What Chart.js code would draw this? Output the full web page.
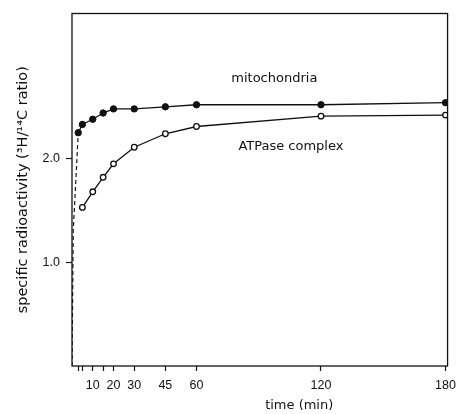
<!DOCTYPE html>
<html>
<head>
<meta charset="utf-8">
<script src="https://cdn.jsdelivr.net/npm/chart.js@4/dist/chart.umd.min.js"></script>
<style>
  html, body { margin: 0; padding: 0; background: #fff; }
  #wrap { width: 463px; height: 414px; }
</style>
</head>
<body>
<div id="wrap"><canvas id="chart" width="463" height="414"></canvas></div>
<script>
// time points (min)
const mitoTimes = [3, 5, 10, 15, 20, 30, 45, 60, 120, 180];
const mitoRatio = [2.25, 2.33, 2.38, 2.44, 2.48, 2.48, 2.50, 2.52, 2.52, 2.54];

const atpTimes = [5, 10, 15, 20, 30, 45, 60, 120, 180];
const atpRatio = [1.53, 1.68, 1.82, 1.95, 2.11, 2.24, 2.31, 2.41, 2.42];

// dashed rise from zero to first mitochondria point
const riseTimes = [0, 0.6, 3];
const riseRatio = [0, 1.3, 2.25];

const xTicks = [3, 5, 10, 15, 20, 30, 45, 60, 120, 180];
const xLabelled = [10, 20, 30, 45, 60, 120, 180];
const yTicks = [1.0, 2.0];

// curve labels, in data units
const curveLabels = [
    { text: "mitochondria", x: 97.5, y: 2.77 },
    { text: "ATPase complex", x: 105.5, y: 2.12 },
];
const xTitle = { text: "time (min)", x: 109.5 };

const ink = "#111";
const TICKFONT = "'Liberation Sans', Arial, sans-serif";
const FONT = "'DejaVu Sans', sans-serif";

const toPoints = (xs, ys) => xs.map((x, i) => ({ x: x, y: ys[i] }));

const frame = {
    id: "frame",
    afterDatasetsDraw(chart) {
        const { ctx, chartArea: a, scales } = chart;
        ctx.save();
        ctx.strokeStyle = ink;
        ctx.lineWidth = 1.3;
        ctx.strokeRect(a.left, a.top, a.right - a.left, a.bottom - a.top);
        ctx.fillStyle = ink;
        ctx.font = "13px " + FONT;
        ctx.textAlign = "center";
        ctx.textBaseline = "middle";
        curveLabels.forEach((l) => {
            ctx.fillText(l.text, scales.x.getPixelForValue(l.x), scales.y.getPixelForValue(l.y));
        });
        // x axis title sits right of centre in the original
        ctx.fillText(xTitle.text, scales.x.getPixelForValue(xTitle.x), chart.height - 8);
        ctx.restore();
    },
};

new Chart(document.getElementById("chart"), {
    type: "scatter",
    data: {
        datasets: [
            {
                label: "rise",
                data: toPoints(riseTimes, riseRatio),
                showLine: true,
                borderColor: ink,
                borderWidth: 1.2,
                borderDash: [4, 3],
                pointRadius: 0,
            },
            {
                label: "mitochondria",
                data: toPoints(mitoTimes, mitoRatio),
                showLine: true,
                borderColor: ink,
                borderWidth: 1.3,
                pointRadius: 3.2,
                pointBackgroundColor: ink,
                pointBorderColor: ink,
                pointBorderWidth: 1,
            },
            {
                label: "ATPase complex",
                data: toPoints(atpTimes, atpRatio),
                showLine: true,
                borderColor: ink,
                borderWidth: 1.3,
                pointRadius: 2.8,
                pointBackgroundColor: "#fff",
                pointBorderColor: ink,
                pointBorderWidth: 1.3,
            },
        ],
    },
    options: {
        responsive: false,
        animation: false,
        layout: { padding: { left: 0, top: 12, right: 14, bottom: 0 } },
        plugins: { legend: { display: false }, tooltip: { enabled: false } },
        scales: {
            x: {
                type: "linear",
                min: 0,
                max: 181,
                afterBuildTicks: (s) => { s.ticks = xTicks.map((v) => ({ value: v })); },
                afterFit: (s) => { s.height = 48; },
                ticks: {
                    color: ink,
                    font: { family: TICKFONT, size: 12.5 },
                    padding: 7,
                    maxRotation: 0,
                    autoSkip: false,
                    callback: (v) => (xLabelled.includes(v) ? String(v) : ""),
                },
                grid: { drawOnChartArea: false, tickLength: 5, color: ink, tickWidth: 1.2 },
                border: { display: false },
            },
            y: {
                min: 0,
                max: 3.4,
                afterBuildTicks: (s) => { s.ticks = yTicks.map((v) => ({ value: v })); },
                afterFit: (s) => { s.width = 72; },
                ticks: {
                    color: ink,
                    font: { family: TICKFONT, size: 12.5 },
                    padding: 6,
                    callback: (v) => v.toFixed(1),
                },
                grid: { drawOnChartArea: false, tickLength: 6, color: ink, tickWidth: 1.2 },
                border: { display: false },
                title: {
                    display: true,
                    text: "specific radioactivity (\u00B3H/\u00B9\u2074C ratio)",
                    color: ink,
                    font: { family: FONT, size: 14.5 },
                    padding: { top: 15, bottom: 0 },
                },
            },
        },
    },
    plugins: [frame],
});
</script>
</body>
</html>
